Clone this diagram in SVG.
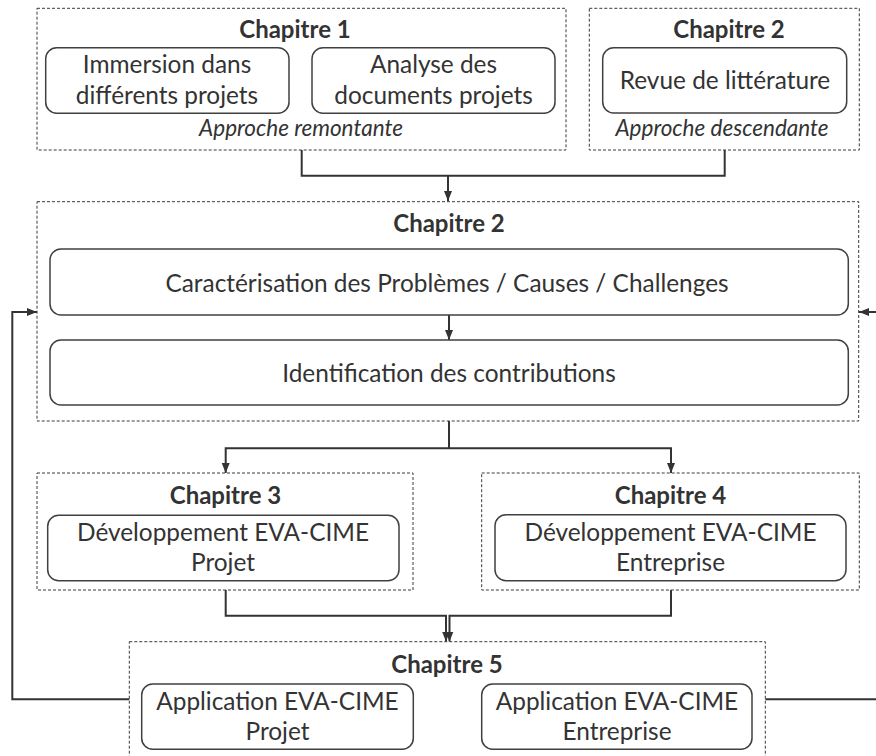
<svg xmlns="http://www.w3.org/2000/svg" width="876" height="756" viewBox="0 0 876 756">
<style>
.grp{fill:none;stroke:#3a3a3a;stroke-width:1;stroke-dasharray:3,2}
.box{fill:#fff;stroke:#404040;stroke-width:1.5}
.t{font-family:Lato,"Liberation Sans",sans-serif;font-size:24.4px;fill:#333;text-anchor:middle}
.h{font-family:Lato,"Liberation Sans",sans-serif;font-size:24px;font-weight:bold;fill:#333;text-anchor:middle}
.i{font-family:Lato,"Liberation Sans",sans-serif;font-size:22.5px;font-style:italic;fill:#333;text-anchor:middle}
.c{fill:none;stroke:#333;stroke-width:2}
</style>
<defs>
<marker id="ar" markerUnits="userSpaceOnUse" markerWidth="10" markerHeight="10" viewBox="0 0 10 10" refX="10" refY="5" orient="auto">
<path d="M0,1 L10,5 L0,9 Z" fill="#333"/>
</marker>
</defs>
<rect width="876" height="756" fill="#fff"/>
<g id="connectors">
<path class="c" d="M301.7,150 V175.7 H448"/>
<path class="c" d="M724.7,150 V175.7 H448"/>
<path class="c" d="M448,175.7 V201" marker-end="url(#ar)"/>
<path class="c" d="M449,315 V340" marker-end="url(#ar)"/>
<path class="c" d="M449,421 V448.3"/>
<path class="c" d="M449,448.3 H225.7 V473" marker-end="url(#ar)"/>
<path class="c" d="M449,448.3 H671 V473" marker-end="url(#ar)"/>
<path class="c" d="M225.7,590 V615.7 H446 V641.5" marker-end="url(#ar)"/>
<path class="c" d="M671,590 V615.7 H449.5 V641.5" marker-end="url(#ar)"/>
<path class="c" d="M129.3,699.3 H12.3 V312 H37" marker-end="url(#ar)"/>
<path class="c" d="M765.3,699.3 H876"/>
<path class="c" d="M876,312 H859" marker-end="url(#ar)"/>
</g>
<g id="chapitre1">
<rect class="grp" x="37" y="8.3" width="529" height="141.7"/>
<text class="h" x="295" y="38">Chapitre 1</text>
<g id="immersion">
<rect class="box" x="45.7" y="47.7" width="243.3" height="65.6" rx="11"/>
<text class="t" x="167" y="73">Immersion dans</text>
<text class="t" x="167" y="104">différents projets</text>
</g>
<g id="analyse">
<rect class="box" x="312" y="47.7" width="243" height="65.6" rx="11"/>
<text class="t" x="433.5" y="73">Analyse des</text>
<text class="t" x="433.5" y="104">documents projets</text>
</g>
<text class="i" x="301" y="136">Approche remontante</text>
</g>
<g id="chapitre2a">
<rect class="grp" x="589.3" y="8.3" width="270" height="141.7"/>
<text class="h" x="729" y="38">Chapitre 2</text>
<g id="revue">
<rect class="box" x="602.7" y="47.7" width="244" height="65.3" rx="11"/>
<text class="t" x="725" y="89">Revue de littérature</text>
</g>
<text class="i" x="722" y="136">Approche descendante</text>
</g>
<g id="chapitre2b">
<rect class="grp" x="37" y="201.7" width="821.7" height="219.3"/>
<text class="h" x="449" y="232">Chapitre 2</text>
<g id="caracterisation">
<rect class="box" x="50" y="249" width="798.3" height="66" rx="11"/>
<text class="t" x="447" y="292">Caractérisation des Problèmes / Causes / Challenges</text>
</g>
<g id="identification">
<rect class="box" x="50" y="340" width="798.3" height="65" rx="11"/>
<text class="t" x="449" y="382">Identification des contributions</text>
</g>
</g>
<g id="chapitre3">
<rect class="grp" x="37" y="473" width="376" height="117"/>
<text class="h" x="225.5" y="504">Chapitre 3</text>
<g id="dev-projet">
<rect class="box" x="47.7" y="515.3" width="351.3" height="65.4" rx="11"/>
<text class="t" x="223" y="541">Développement EVA-CIME</text>
<text class="t" x="223" y="571">Projet</text>
</g>
</g>
<g id="chapitre4">
<rect class="grp" x="481.7" y="473" width="377.6" height="117"/>
<text class="h" x="670.5" y="504">Chapitre 4</text>
<g id="dev-entreprise">
<rect class="box" x="495" y="514.7" width="351" height="66" rx="11"/>
<text class="t" x="670.5" y="541">Développement EVA-CIME</text>
<text class="t" x="670.5" y="571">Entreprise</text>
</g>
</g>
<g id="chapitre5">
<rect class="grp" x="129.3" y="641.7" width="636" height="130"/>
<text class="h" x="447" y="673">Chapitre 5</text>
<g id="app-projet">
<rect class="box" x="141.7" y="684" width="271.6" height="65.3" rx="11"/>
<text class="t" x="277.5" y="710">Application EVA-CIME</text>
<text class="t" x="277.5" y="740">Projet</text>
</g>
<g id="app-entreprise">
<rect class="box" x="481.7" y="684" width="270.3" height="65.3" rx="11"/>
<text class="t" x="617" y="710">Application EVA-CIME</text>
<text class="t" x="617" y="740">Entreprise</text>
</g>
</g>
</svg>
